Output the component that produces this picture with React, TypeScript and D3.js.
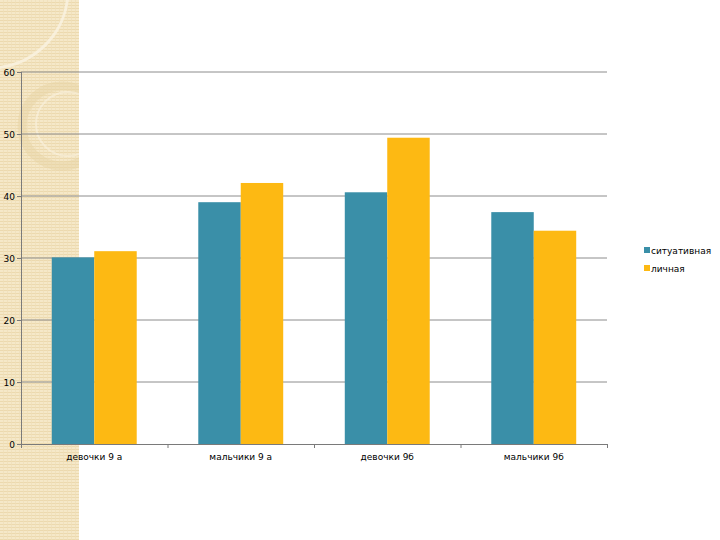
import React from "react";
import * as d3 from "d3";

const categories = ["девочки 9 а", "мальчики 9 а", "девочки 9б", "мальчики 9б"];
const seriesNames = ["ситуативная", "личная"];
const situational = [30.1, 39, 40.6, 37.4];
const personal = [31.1, 42.1, 49.4, 34.4];
const yTicks = [0, 10, 20, 30, 40, 50, 60];
const colors = ["#3A8FA8", "#FDB913"];

const W = 720;
const H = 540;
const plot = { left: 21, right: 607, top: 72, bottom: 444 };

export default function App() {
  const x = d3.scaleBand<string>().domain(categories).range([plot.left, plot.right]).paddingInner(0).paddingOuter(0);
  const y = d3.scaleLinear().domain([0, 60]).range([plot.bottom, plot.top]);
  const inner = d3.scaleBand<string>().domain(seriesNames).range([0, x.bandwidth()]).paddingInner(0).paddingOuter(0.725);
  const values = [situational, personal];
  const font = "'DejaVu Sans', Verdana, sans-serif";
  const boundaries = d3.range(categories.length + 1).map((i) => plot.left + i * x.bandwidth());

  return (
    <svg width={W} height={H} style={{ position: "fixed", left: 0, top: 0, background: "#fff" }} fontFamily={font}>
      <defs>
        <pattern id="stripes" width="4" height="3" patternUnits="userSpaceOnUse">
          <rect width="4" height="3" fill="#F5E8C8" />
          <rect y="2" width="4" height="1" fill="#ECD9AE" />
          <rect x="3" width="1" height="3" fill="#F0DFB8" opacity="0.7" />
        </pattern>
        <clipPath id="strip">
          <rect x="0" y="0" width="79" height={H} />
        </clipPath>
      </defs>
      <rect x={0} y={0} width={79} height={H} fill="url(#stripes)" />
      <g clipPath="url(#strip)" fill="none">
        <circle cx={-10} cy={-10} r={78} stroke="#FAF3E2" strokeWidth={3} opacity={0.8} />
        <circle cx={62} cy={126} r={40} stroke="#E6D3A2" strokeWidth={9} opacity={0.45} />
        <circle cx={68} cy={124} r={32} stroke="#FAF2E0" strokeWidth={2} opacity={0.6} />
      </g>
      {/* gridlines */}
      {yTicks.slice(1).map((t) => (
        <line key={t} x1={plot.left} x2={plot.right} y1={y(t)} y2={y(t)} stroke="#8C8C8C" strokeWidth={1} />
      ))}
      {/* bars */}
      {categories.map((c, i) => (
        <g key={c}>
          {seriesNames.map((s, j) => (
            <rect
              key={s}
              x={(x(c) as number) + (inner(s) as number)}
              y={y(values[j][i])}
              width={inner.bandwidth()}
              height={plot.bottom - y(values[j][i])}
              fill={colors[j]}
            />
          ))}
        </g>
      ))}
      {/* axes */}
      <line x1={plot.left + 0.5} x2={plot.left + 0.5} y1={plot.top} y2={plot.bottom} stroke="#7A7A7A" />
      <line x1={plot.left} x2={plot.right} y1={plot.bottom + 0.5} y2={plot.bottom + 0.5} stroke="#7A7A7A" />
      {yTicks.map((t) => (
        <g key={t}>
          <line x1={plot.left - 4} x2={plot.left} y1={y(t) + 0.5} y2={y(t) + 0.5} stroke="#7A7A7A" />
          <text x={15} y={y(t) + 3.5} fontSize={9} textAnchor="end" fill="#000">
            {t}
          </text>
        </g>
      ))}
      {boundaries.map((b, i) => (
        <line key={i} x1={b + 0.5} x2={b + 0.5} y1={plot.bottom} y2={plot.bottom + 4} stroke="#7A7A7A" />
      ))}
      {categories.map((c) => (
        <text key={c} x={(x(c) as number) + x.bandwidth() / 2} y={460} fontSize={9} textAnchor="middle" fill="#000">
          {c}
        </text>
      ))}
      {/* legend */}
      {seriesNames.map((s, j) => (
        <g key={s}>
          <rect x={644} y={247 + j * 18} width={6} height={6} fill={colors[j]} />
          <text x={651} y={254 + j * 18} fontSize={9} fill="#000">
            {s}
          </text>
        </g>
      ))}
    </svg>
  );
}
